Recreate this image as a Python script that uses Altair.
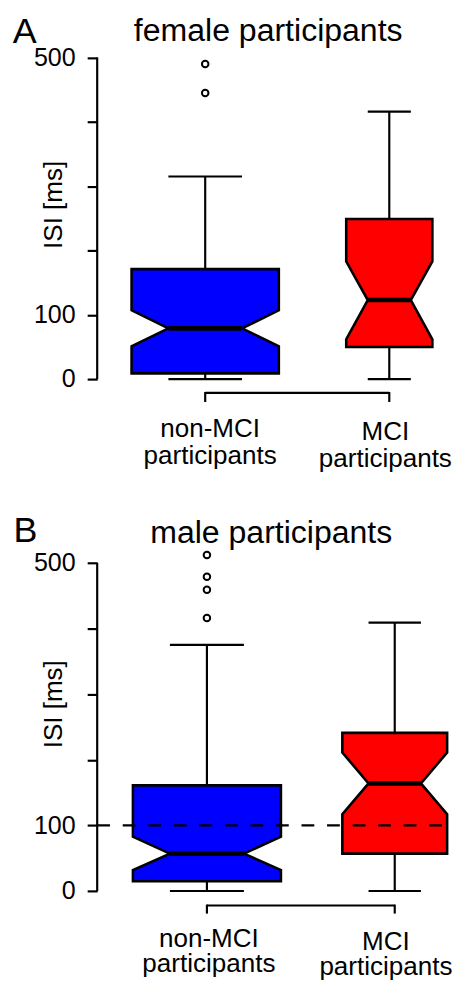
import altair as alt
import pandas as pd

# ---------------- data ----------------
groups = ["non-MCI", "MCI"]
group_pos = [1, 2]
group_labels = [["non-MCI", "participants"], ["MCI", "participants"]]
colors = ["#0000FF", "#FF0000"]
y_ticks = [0, 100, 200, 300, 400, 500]
y_tick_labels = ["0", "100", "", "", "", "500"]

# female participants (ISI, ms)
f_low = [0, 0]
f_q1 = [9, 50]
f_notch_lo = [51, 62]
f_median = [79, 123]
f_notch_hi = [107, 183]
f_q3 = [171, 249]
f_high = [315, 416]
f_out_group = ["non-MCI", "non-MCI"]
f_out_value = [490, 445]

# male participants (ISI, ms)
m_low = [0, 0]
m_q1 = [15, 57]
m_notch_lo = [32, 117]
m_median = [57, 164]
m_notch_hi = [83, 211]
m_q3 = [161, 241]
m_high = [375, 409]
m_out_group = ["non-MCI", "non-MCI", "non-MCI", "non-MCI"]
m_out_value = [512, 479, 459, 416]

# box half widths (varwidth boxes) in x units
f_halfw = [0.40, 0.234]
m_halfw = [0.394, 0.279]

FONT = "Liberation Sans"
W = 362.2    # plot width
H = 976      # plot height (whole drawing band)


def panel(low, q1, nlo, med, nhi, q3, high, out_g, out_v, halfw,
          title, letter, xdom, ydom, axis_y, tick_len, title_xy, letter_xy, ytitle_y,
          label_y, label_dx, label_dy, line_h, ref_line=False):
    poly_rows, box_rows = [], []
    for i, g in enumerate(groups):
        c, hw = group_pos[i], halfw[i]
        pts = [(q1[i], hw), (nlo[i], hw), (med[i], hw / 2), (nhi[i], hw), (q3[i], hw)]
        for k, (yv, w) in enumerate(pts):
            poly_rows.append(dict(group=g, k=k, y=yv, xl=c - w, xr=c + w))
        box_rows.append(dict(group=g, c=c, low=low[i], q1=q1[i], med=med[i], q3=q3[i],
                             high=high[i], cl=c - hw / 2, cr=c + hw / 2))
    poly = pd.DataFrame(poly_rows)
    box = pd.DataFrame(box_rows)
    outl = pd.DataFrame({"group": out_g, "value": out_v,
                         "c": [group_pos[groups.index(g)] for g in out_g]})

    xscale = alt.Scale(domain=xdom, nice=False, zero=False, padding=0)
    yscale = alt.Scale(domain=ydom, nice=False, zero=False, padding=0)

    ylab_expr = " : ".join(
        [f"datum.value == {v} ? '{t}'" for v, t in zip(y_ticks, y_tick_labels)]
    ) + " : ''"
    yaxis = alt.Axis(values=y_ticks, labelExpr=ylab_expr, title=None, domain=False,
                     orient="left", grid=False, tickSize=10.2, tickWidth=2.2,
                     tickColor="black", labelFont=FONT, labelFontSize=25.5,
                     labelColor="black", labelPadding=12.2, labelOverlap=False,
                     labelFlush=False, labelBound=False)

    area = alt.Chart(poly).mark_area(orient="horizontal", stroke="black", strokeWidth=2.6,
                                     strokeJoin="miter", opacity=1, fillOpacity=1).encode(
        y=alt.Y("y:Q", scale=yscale, axis=yaxis),
        x=alt.X("xl:Q", scale=xscale, axis=None),
        x2="xr:Q",
        fill=alt.Fill("group:N", scale=alt.Scale(domain=groups, range=colors), legend=None),
    )
    base = alt.Chart(box)
    wl = base.mark_rule(color="black", strokeWidth=2.2).encode(x="c:Q", y="low:Q", y2="q1:Q")
    wh = base.mark_rule(color="black", strokeWidth=2.2).encode(x="c:Q", y="q3:Q", y2="high:Q")
    cl = base.mark_rule(color="black", strokeWidth=2.2).encode(x="cl:Q", x2="cr:Q", y="low:Q")
    ch = base.mark_rule(color="black", strokeWidth=2.2).encode(x="cl:Q", x2="cr:Q", y="high:Q")
    md = base.mark_rule(color="black", strokeWidth=4.7).encode(x="cl:Q", x2="cr:Q", y="med:Q")
    pts = alt.Chart(outl).mark_point(shape="circle", filled=False, color="black",
                                     strokeWidth=2, size=44, opacity=1).encode(
        x="c:Q", y="value:Q")

    # axis lines spanning first to last tick (R style)
    yline = alt.Chart(pd.DataFrame({"a": [y_ticks[0]], "b": [y_ticks[-1]]})).mark_rule(
        color="black", strokeWidth=2.2).encode(x=alt.value(0), y="a:Q", y2="b:Q")
    xline = alt.Chart(pd.DataFrame({"a": [group_pos[0]], "b": [group_pos[-1]]})).mark_rule(
        color="black", strokeWidth=2.2).encode(x="a:Q", x2="b:Q", y=alt.value(axis_y))
    xticks = alt.Chart(pd.DataFrame({"p": group_pos})).mark_rule(
        color="black", strokeWidth=2.2).encode(x="p:Q", y=alt.value(axis_y - 1),
                                               y2=alt.value(axis_y + tick_len))

    layers = [area, wl, wh, cl, ch, md, pts, yline, xline, xticks]

    for i in range(len(groups)):
        lab = pd.DataFrame({"p": [group_pos[i]], "t": [group_labels[i]]})
        layers.append(alt.Chart(lab).mark_text(
            font=FONT, fontSize=26.5, align="center", baseline="alphabetic",
            lineHeight=line_h, color="black", dx=label_dx[i]).encode(
            x="p:Q", y=alt.value(label_y + label_dy[i]), text="t"))

    t = alt.Chart(pd.DataFrame({"t": [title]})).mark_text(
        font=FONT, fontSize=32.6, align="center", baseline="alphabetic", color="black").encode(
        text="t:N", x=alt.value(title_xy[0]), y=alt.value(title_xy[1]))
    lt = alt.Chart(pd.DataFrame({"t": [letter]})).mark_text(
        font=FONT, fontSize=36.5, align="left", baseline="alphabetic", color="black").encode(
        text="t:N", x=alt.value(letter_xy[0]), y=alt.value(letter_xy[1]))
    yt = alt.Chart(pd.DataFrame({"t": ["ISI [ms]"]})).mark_text(
        font=FONT, fontSize=26.5, align="center", baseline="alphabetic", angle=270,
        color="black").encode(text="t:N", x=alt.value(-36), y=alt.value(ytitle_y))
    layers += [t, lt, yt]

    if ref_line:
        ref = alt.Chart(pd.DataFrame({"v": [100]})).mark_rule(
            color="black", strokeWidth=2.2, strokeDash=[13, 13]).encode(
            y="v:Q", x=alt.value(0), x2=alt.value(W))
        layers.append(ref)
    return alt.layer(*layers)


# Each panel gets its own x / y scale; domains chosen so each panel sits in its
# own band of the common drawing area.
female = panel(f_low, f_q1, f_notch_lo, f_median, f_notch_hi, f_q3, f_high,
               f_out_group, f_out_value, f_halfw,
               "female participants", "A", [0.4133, 2.3461], [-926.95, 563.6],
               axis_y=383.1, tick_len=9.2,
               title_xy=(174.1, 24.5), letter_xy=(-85.9, 27), ytitle_y=191.6,
               label_y=427.5, label_dx=[5, -4], label_dy=[0, 4], line_h=27.5)
male = panel(m_low, m_q1, m_notch_lo, m_median, m_notch_hi, m_q3, m_high,
             m_out_group, m_out_value, m_halfw,
             "male participants", "B", [0.4158, 2.3102], [-128.55, 1332.5],
             axis_y=904.9, tick_len=8.2,
             title_xy=(177.2, 535.8), letter_xy=(-85.3, 534.4), ytitle_y=700,
             label_y=946.8, label_dx=[2, -9], label_dy=[0, 3], line_h=25.5, ref_line=True)

chart = alt.layer(female, male).resolve_scale(
    x="independent", y="independent"
).resolve_axis(
    x="independent", y="independent"
).properties(
    width=W, height=H,
    autosize=alt.AutoSizeParams(type="none"),
    padding={"left": 90.8, "top": 0, "right": 0, "bottom": 0},
    background="white",
).configure_view(strokeWidth=0)

chart.save("out.html", embed_options={"renderer": "svg", "actions": False})
